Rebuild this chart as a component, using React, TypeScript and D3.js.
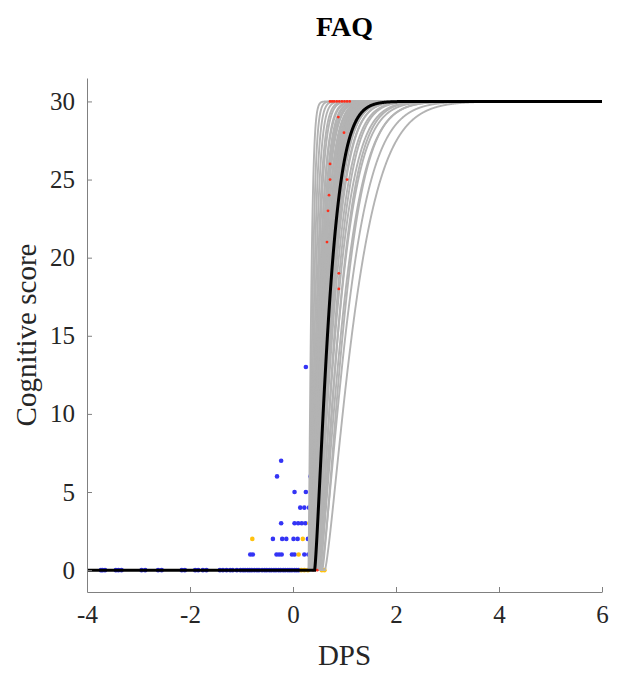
import React, { useEffect, useRef } from 'react';
import * as d3 from 'd3';

const xTicks = [-4, -2, 0, 2, 4, 6];
const yTicks = [0, 5, 10, 15, 20, 25, 30];
const maxScore = 30;

// fitted onset curves: score = 30 * (1 - exp(-((dps - onset) / scale)^shape))
const fitShape = 1.3;
const meanOnset = 0.42;
const meanScale = 0.33;

// bootstrap resamples (onset, scale)
const bootOnset = [
  0.30, 0.31, 0.32, 0.33, 0.34, 0.35, 0.35, 0.36, 0.36, 0.37,
  0.37, 0.38, 0.38, 0.39, 0.39, 0.40, 0.40, 0.41, 0.41, 0.42,
  0.42, 0.43, 0.43, 0.44, 0.44, 0.45, 0.45, 0.46, 0.46, 0.47,
  0.47, 0.48, 0.48, 0.49, 0.50, 0.36, 0.38, 0.40, 0.39, 0.37,
  0.34, 0.44, 0.46, 0.48, 0.50, 0.50, 0.52, 0.53, 0.55, 0.57, 0.62,
  0.42, 0.45, 0.47, 0.49,
];
const bootScale = [
  0.06, 0.08, 0.10, 0.12, 0.14, 0.15, 0.18, 0.17, 0.20, 0.19,
  0.22, 0.21, 0.24, 0.23, 0.26, 0.25, 0.28, 0.27, 0.30, 0.29,
  0.31, 0.30, 0.33, 0.28, 0.32, 0.26, 0.30, 0.24, 0.29, 0.22,
  0.27, 0.20, 0.25, 0.23, 0.21, 0.25, 0.28, 0.32, 0.35, 0.30,
  0.22, 0.37, 0.40, 0.45, 0.40, 0.49, 0.54, 0.45, 0.62, 0.52, 0.69,
  0.35, 0.34, 0.36, 0.31,
];

// observed scores, [DPS, score]
const bluePoints: [number, number][] = [
  [0.25, 13], [-0.23, 7], [-0.31, 6], [0.34, 6], [0.03, 5], [0.25, 5],
  [0.14, 4], [0.22, 4], [0.31, 4],
  [-0.23, 3], [0.03, 3], [0.10, 3], [0.17, 3], [0.24, 3],
  [-0.39, 2], [-0.21, 2], [-0.13, 2], [0.01, 2], [0.09, 2], [0.29, 2],
  [-0.83, 1], [-0.78, 1], [-0.32, 1], [-0.27, 1], [-0.22, 1], [-0.02, 1], [0.03, 1], [0.22, 1], [0.30, 1],
  [-3.73, 0], [-3.70, 0], [-3.65, 0], [-3.44, 0], [-3.39, 0], [-3.33, 0], [-2.94, 0], [-2.87, 0],
  [-2.62, 0], [-2.55, 0], [-2.16, 0], [-2.10, 0], [-1.90, 0], [-1.84, 0], [-1.75, 0], [-1.68, 0],
  [-1.42, 0], [-1.36, 0], [-1.29, 0], [-1.22, 0], [-1.17, 0], [-1.09, 0], [-1.02, 0], [-0.97, 0],
  [-0.93, 0], [-0.88, 0], [-0.84, 0], [-0.80, 0], [-0.75, 0], [-0.70, 0], [-0.66, 0], [-0.60, 0],
  [-0.55, 0], [-0.51, 0], [-0.46, 0], [-0.42, 0], [-0.37, 0], [-0.33, 0], [-0.28, 0], [-0.24, 0],
  [-0.19, 0], [-0.15, 0], [-0.10, 0], [-0.06, 0], [-0.02, 0], [0.03, 0], [0.07, 0], [0.11, 0],
];
const yellowPoints: [number, number][] = [
  [0.32, 3], [-0.79, 2], [0.19, 2], [0.11, 1],
  [0.16, 0], [0.22, 0], [0.29, 0], [0.56, 0], [0.61, 0],
];
const redPoints: [number, number][] = [
  [0.72, 30], [0.76, 30], [0.80, 30], [0.85, 30], [0.90, 30], [0.95, 30], [1.00, 30], [1.05, 30], [1.10, 30],
  [0.88, 29], [0.99, 28], [0.72, 26], [0.72, 25], [1.05, 25], [0.70, 24], [0.68, 23], [0.66, 21],
  [0.89, 19], [0.89, 18], [0.39, 0], [0.47, 0],
];

const onsetCurve = (x: number, onset: number, scale: number) => {
  const d = Math.max(0, x - onset) / scale;
  return maxScore * (1 - Math.exp(-Math.pow(d, fitShape)));
};

const FaqChart = () => {
  const svgRef = useRef<SVGSVGElement>(null);

  useEffect(() => {
    const width = 619;
    const height = 675;
    const margin = { top: 78, right: 17, bottom: 83, left: 87 };
    const font = '"Liberation Serif", "Times New Roman", serif';

    const svg = d3.select(svgRef.current);
    svg.selectAll('*').remove();
    svg.attr('width', width).attr('height', height);

    const x = d3.scaleLinear().domain([-4, 6]).range([margin.left, width - margin.right]);
    const y = d3.scaleLinear().domain([-1.4, 31.5]).range([height - margin.bottom, margin.top]);

    const chart = svg.append('g');
    const grid = d3.range(-4, 6.0001, 0.005);
    const line = d3.line<number>().x(d => x(d)).y(d => y(d));

    const drawDots = (pts: [number, number][], color: string, r: number) => {
      chart.append('g')
        .selectAll('circle')
        .data(pts)
        .enter()
        .append('circle')
        .attr('cx', d => x(d[0]))
        .attr('cy', d => y(d[1]))
        .attr('r', r)
        .attr('fill', color);
    };

    drawDots(bluePoints, '#3434f5', 2.3);
    drawDots(yellowPoints, '#ffc20e', 2.3);

    // bootstrap fits
    bootOnset.forEach((onset, i) => {
      chart.append('path')
        .datum(grid)
        .attr('fill', 'none')
        .attr('stroke', '#b3b3b3')
        .attr('stroke-width', 1.9)
        .attr('d', line.y(d => y(onsetCurve(d, onset, bootScale[i]))));
    });

    drawDots(redPoints, '#ff2d1a', 1.4);

    // mean fit
    chart.append('path')
      .datum(grid)
      .attr('fill', 'none')
      .attr('stroke', '#000')
      .attr('stroke-width', 3)
      .attr('d', line.y(d => y(onsetCurve(d, meanOnset, meanScale))));

    // axes, ticks pointing inward
    const xAxis = chart.append('g')
      .attr('transform', `translate(0,${height - margin.bottom})`)
      .call(d3.axisBottom(x).tickValues(xTicks).tickFormat(d => String(d))
        .tickSizeInner(-5).tickSizeOuter(0).tickPadding(13));
    const yAxis = chart.append('g')
      .attr('transform', `translate(${margin.left},0)`)
      .call(d3.axisLeft(y).tickValues(yTicks).tickFormat(d => String(d))
        .tickSizeInner(-5).tickSizeOuter(0).tickPadding(12));

    [xAxis, yAxis].forEach(ax => {
      ax.select('.domain').attr('stroke', '#808080');
      ax.selectAll('.tick line').attr('stroke', '#808080');
      ax.selectAll('.tick text')
        .attr('fill', '#262626')
        .style('font-family', font)
        .style('font-size', '25px');
    });

    // titles
    svg.append('text')
      .attr('x', (margin.left + width - margin.right) / 2)
      .attr('y', 36)
      .attr('text-anchor', 'middle')
      .style('font-family', font)
      .style('font-size', '28px')
      .style('font-weight', 'bold')
      .text('FAQ');

    svg.append('text')
      .attr('x', (margin.left + width - margin.right) / 2)
      .attr('y', 665)
      .attr('text-anchor', 'middle')
      .attr('fill', '#262626')
      .style('font-family', font)
      .style('font-size', '29px')
      .text('DPS');

    svg.append('text')
      .attr('transform', `translate(36,${(margin.top + height - margin.bottom) / 2}) rotate(-90)`)
      .attr('text-anchor', 'middle')
      .attr('fill', '#262626')
      .style('font-family', font)
      .style('font-size', '29px')
      .text('Cognitive score');
  }, []);

  return <svg ref={svgRef} width={619} height={675} style={{ display: 'block' }}></svg>;
};

export default function App() {
  return (
    <div style={{ position: 'absolute', left: 0, top: 0, background: '#fff' }}>
      <FaqChart />
    </div>
  );
}
